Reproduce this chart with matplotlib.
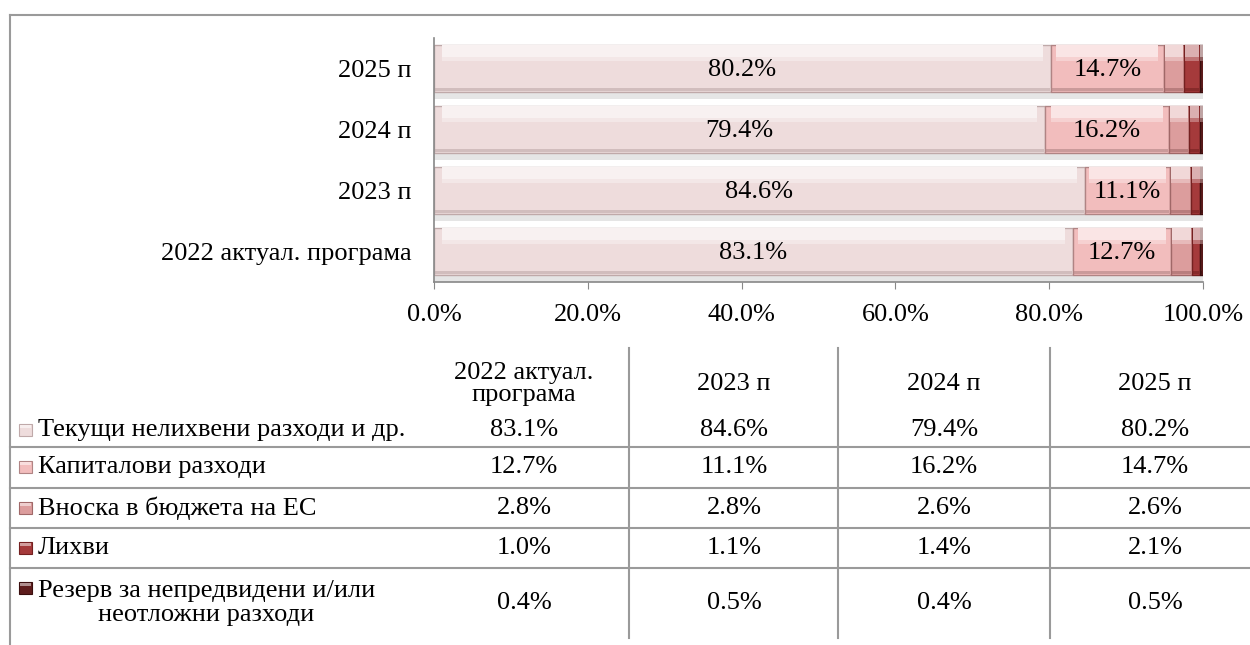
import numpy as np
import matplotlib.pyplot as plt
from matplotlib.colors import to_rgb
from matplotlib.lines import Line2D

plt.rcParams['font.family'] = ['Liberation Serif', 'DejaVu Serif']
plt.rcParams['font.size'] = 19

# data
years = ['2022 актуал. програма', '2023 п', '2024 п', '2025 п']
head_labels = ['2022 актуал.\nпрограма', '2023 п', '2024 п', '2025 п']
series_names = ['Текущи нелихвени разходи и др.', 'Капиталови разходи',
                'Вноска в бюджета на ЕС', 'Лихви',
                'Резерв за непредвидени и/или\nнеотложни разходи']
current = [83.1, 84.6, 79.4, 80.2]
capital = [12.7, 11.1, 16.2, 14.7]
eu_fee = [2.8, 2.8, 2.6, 2.6]
interest = [1.0, 1.1, 1.4, 2.1]
reserve = [0.4, 0.5, 0.4, 0.5]
series = [current, capital, eu_fee, interest, reserve]

colors = ['#EEDCDC', '#F2BDBD', '#DC9D9D', '#A53A3B', '#5E1C1C']
edges = ['#BFA9A9', '#B08484', '#A06868', '#742020', '#3A0E0E']
labelled = [True, True, False, False, False]

W, H = 1250, 645
fig = plt.figure(figsize=(W / 100, H / 100), dpi=100)


def lighten(c, f):
    r = np.array(to_rgb(c))
    return tuple(r + (1 - r) * f)


# ---- bar chart ----
ax = fig.add_axes([434 / W, 1 - 282 / H, (1203 - 434) / W, (282 - 38) / H])
y = np.arange(len(years))
h = 0.77
left = np.zeros(len(years))
for s, vals in enumerate(series):
    vals = np.array(vals)
    # soft shadow under the bar
    ax.barh(y - h / 2 - 0.06, vals, height=0.12, left=left,
            color='#8A8A8A', alpha=0.22, linewidth=0, zorder=1)
    ax.barh(y, vals, height=h, left=left, color=colors[s],
            edgecolor=edges[s], linewidth=1, zorder=2)
    # bevel: light band on top, darker band at the bottom
    inset = np.minimum(vals * 0.05, 1.0)
    ax.barh(y + h / 2 - 0.1, vals - 2 * inset, height=0.2, left=left + inset,
            color=lighten(colors[s], 0.6), linewidth=0, zorder=3)
    ax.barh(y + h / 2 - 0.23, vals - 2 * inset, height=0.06, left=left + inset,
            color=lighten(colors[s], 0.3), linewidth=0, zorder=3)
    ax.barh(y - h / 2 + 0.035, vals - 0.2, height=0.05, left=left + 0.1,
            color=edges[s], alpha=0.6, linewidth=0, zorder=3)
    if labelled[s]:
        for yi, l, v in zip(y, left, vals):
            ax.text(l + v / 2, yi - 0.03, f'{v:.1f}%', ha='center', va='center',
                    zorder=4)
    left += vals

ax.set_xlim(0, 100)
ax.set_ylim(-0.5, 3.5)
ax.set_xticks(np.arange(0, 101, 20))
ax.set_xticklabels([f'{t:.1f}%' for t in np.arange(0, 101, 20)])
ax.set_yticks(y)
ax.set_yticklabels(years)
ax.tick_params(axis='y', length=0, pad=16)
ax.tick_params(axis='x', length=5, color='#888888', pad=11)
for side in ['top', 'right']:
    ax.spines[side].set_visible(False)
for side in ['left', 'bottom']:
    ax.spines[side].set_color('#888888')
    ax.spines[side].set_linewidth(1.2)

# ---- data table below ----
tab = fig.add_axes([0, 0, 1, 1])
tab.set_xlim(0, W)
tab.set_ylim(H, 0)
tab.axis('off')

grey = '#9A9A9A'
# outer frame (clipped at right and bottom)
tab.add_line(Line2D([10, W], [15, 15], color=grey, lw=1.5))
tab.add_line(Line2D([10, 10], [15, H], color=grey, lw=1.5))

col_x = [524, 734, 944, 1155]
col_bounds = [629, 838, 1050]
row_lines = [447, 488, 528, 568]
row_y = [430, 467, 508, 548, 603]

for xb in col_bounds:
    tab.add_line(Line2D([xb, xb], [348, 638], color=grey, lw=1.5))
for yl in row_lines:
    tab.add_line(Line2D([10, W], [yl, yl], color=grey, lw=1.5))

for cx, lab in zip(col_x, head_labels):
    tab.text(cx, 384, lab, ha='center', va='center', linespacing=1.0)

for r, (name, vals) in enumerate(zip(series_names, series)):
    ry = row_y[r] - (15 if r == 4 else 0)
    tab.add_patch(plt.Rectangle((19, ry - 6), 13, 12, facecolor=colors[r],
                                edgecolor=edges[r], lw=0.8))
    tab.add_patch(plt.Rectangle((20, ry - 5), 11, 3, facecolor=lighten(colors[r], 0.5),
                                lw=0))
    tab.text(38, row_y[r], name, ha='left', va='center', multialignment='center',
             linespacing=1.1)
    for cx, v in zip(col_x, vals):
        tab.text(cx, row_y[r], f'{v:.1f}%', ha='center', va='center')

fig.savefig('out.png', dpi=100)
